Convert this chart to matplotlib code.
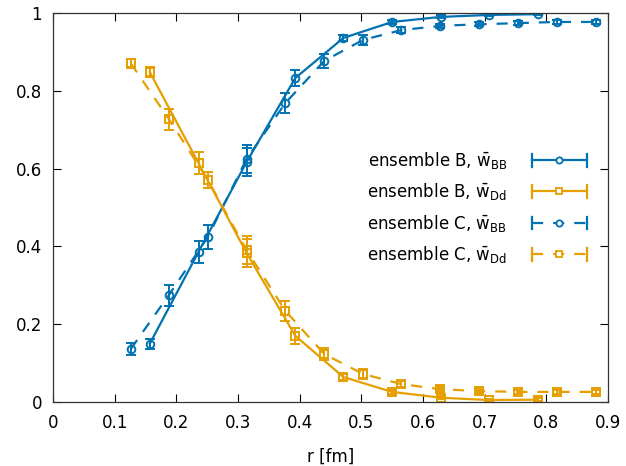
import matplotlib
matplotlib.use("Agg")
import matplotlib.pyplot as plt
from matplotlib.legend_handler import HandlerBase
from matplotlib.lines import Line2D

# ---- data ----
xB = [0.157, 0.236, 0.314, 0.393, 0.471, 0.550, 0.629, 0.707, 0.786]
wBB_B = [0.150, 0.386, 0.617, 0.833, 0.936, 0.977, 0.990, 0.995, 0.997]
eBB_B = [0.013, 0.028, 0.036, 0.020, 0.008, 0.005, 0.004, 0.003, 0.003]
wDd_B = [0.848, 0.614, 0.383, 0.170, 0.064, 0.026, 0.011, 0.005, 0.006]
eDd_B = [0.012, 0.028, 0.036, 0.020, 0.008, 0.005, 0.004, 0.003, 0.004]

xC = [0.126, 0.188, 0.251, 0.314, 0.377, 0.440, 0.503, 0.565, 0.628, 0.691, 0.754, 0.817, 0.880]
wBB_C = [0.136, 0.275, 0.424, 0.625, 0.769, 0.877, 0.931, 0.956, 0.967, 0.971, 0.974, 0.977, 0.977]
eBB_C = [0.015, 0.027, 0.030, 0.036, 0.025, 0.018, 0.012, 0.008, 0.006, 0.005, 0.005, 0.005, 0.005]
wDd_C = [0.871, 0.727, 0.571, 0.390, 0.234, 0.123, 0.072, 0.046, 0.033, 0.028, 0.026, 0.026, 0.026]
eDd_C = [0.012, 0.027, 0.020, 0.036, 0.025, 0.016, 0.012, 0.008, 0.006, 0.005, 0.005, 0.005, 0.005]

labels = [r"ensemble B, $\bar{\mathrm{w}}_{\mathrm{BB}}$",
          r"ensemble B, $\bar{\mathrm{w}}_{\mathrm{Dd}}$",
          r"ensemble C, $\bar{\mathrm{w}}_{\mathrm{BB}}$",
          r"ensemble C, $\bar{\mathrm{w}}_{\mathrm{Dd}}$"]
xticks = [0, 0.1, 0.2, 0.3, 0.4, 0.5, 0.6, 0.7, 0.8, 0.9]
yticks = [0, 0.2, 0.4, 0.6, 0.8, 1.0]
xticklabels = ["0", "0.1", "0.2", "0.3", "0.4", "0.5", "0.6", "0.7", "0.8", "0.9"]
yticklabels = ["0", "0.2", "0.4", "0.6", "0.8", "1"]

BLUE = "#0072b2"
YELLOW = "#e69f00"

plt.rcParams["font.family"] = ["DejaVu Sans"]
plt.rcParams["mathtext.fontset"] = "dejavusans"

fig = plt.figure(figsize=(6.26, 4.66), dpi=100)
ax = fig.add_axes([53/626, 1-402/466, 555/626, 389/466])

lw = 1.6
dash = (0, (5, 4.5))

def draw(x, y, e, color, marker, ls):
    ax.errorbar(x, y, yerr=e, color=color, lw=lw, ls=ls, marker=marker,
                mfc="none", mec=color, mew=1.4, ms=5.5,
                elinewidth=1.4, capsize=3.5, capthick=1.4)

draw(xB, wBB_B, eBB_B, BLUE, "o", "-")
draw(xB, wDd_B, eDd_B, YELLOW, "s", "-")
draw(xC, wBB_C, eBB_C, BLUE, "o", dash)
draw(xC, wDd_C, eDd_C, YELLOW, "s", dash)

class GPHandler(HandlerBase):
    def __init__(self, color, marker, ls):
        super().__init__()
        self.color, self.marker, self.ls = color, marker, ls
    def create_artists(self, legend, orig_handle, xdescent, ydescent,
                       width, height, fontsize, trans):
        y = height / 2 - ydescent
        x0, x1 = -xdescent, width - xdescent
        tick = fontsize * 0.38
        arts = [Line2D([x0, x1], [y, y], color=self.color, lw=lw, ls=self.ls),
                Line2D([x0, x0], [y - tick, y + tick], color=self.color, lw=lw),
                Line2D([x1, x1], [y - tick, y + tick], color=self.color, lw=lw),
                Line2D([(x0 + x1) / 2], [y], marker=self.marker, mfc="white",
                       mec=self.color, mew=1.3, ms=4.5, ls="none")]
        for a in arts:
            a.set_transform(trans)
        return arts

handles = [Line2D([], []) for _ in range(4)]
hmap = {handles[0]: GPHandler(BLUE, "o", "-"),
        handles[1]: GPHandler(YELLOW, "s", "-"),
        handles[2]: GPHandler(BLUE, "o", dash),
        handles[3]: GPHandler(YELLOW, "s", dash)}
ax.legend(handles, labels, handler_map=hmap, loc="center right",
          bbox_to_anchor=(0.962, 0.50), frameon=False, markerfirst=False,
          borderpad=0, borderaxespad=0, handlelength=3.3, handletextpad=1.5,
          labelspacing=0.62, fontsize=12)

ax.set_xlim(0, 0.9)
ax.set_ylim(0, 1)
ax.set_xticks(xticks, xticklabels)
ax.set_yticks(yticks, yticklabels)
ax.tick_params(direction="in", length=6, width=0.8, top=True, right=True,
               labelsize=12, pad=9, colors="black")
ax.tick_params(axis="y", pad=8)
for s in ax.spines.values():
    s.set_linewidth(0.9)
    s.set_color("#333333")
ax.set_xlabel("r [fm]", fontsize=12, labelpad=11)

fig.savefig("out.png", dpi=100)
